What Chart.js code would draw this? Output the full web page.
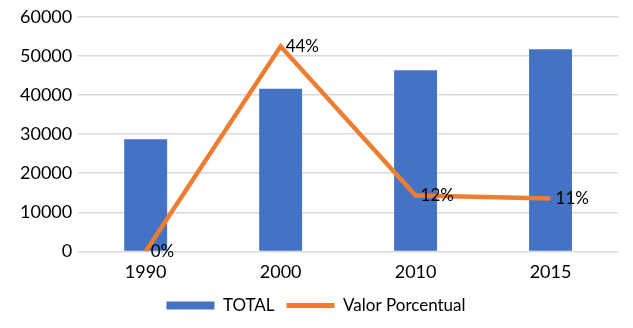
<!DOCTYPE html>
<html>
<head>
<meta charset="utf-8">
<script src="https://cdn.jsdelivr.net/npm/chart.js@4"></script>
<style>
  html, body { margin: 0; padding: 0; background: #fff; }
  #wrap { width: 633px; height: 328px; }
</style>
</head>
<body>
<div id="wrap"><canvas id="chart"></canvas></div>
<script>
// Datos
const anios = ['1990', '2000', '2010', '2015'];
const total = [28700, 41600, 46300, 51700];
const valorPorcentual = [0, 0.437, 0.119, 0.113];   // fracción
const ticksY = [0, 10000, 20000, 30000, 40000, 50000, 60000];

const AZUL = '#4472C4', NARANJA = '#ED7D31', GRIS = '#d9d9d9';
const FUENTE = 'Lato, "DejaVu Sans", sans-serif';

// etiquetas de porcentaje a la derecha de cada punto
const etiquetas = {
  id: 'etiquetas',
  afterDatasetsDraw(chart) {
    const meta = chart.getDatasetMeta(1);
    const ctx = chart.ctx;
    ctx.save();
    ctx.font = '17px ' + FUENTE;
    ctx.fillStyle = '#000';
    ctx.textAlign = 'left';
    ctx.textBaseline = 'middle';
    meta.data.forEach((pt, i) => {
      ctx.fillText(Math.round(valorPorcentual[i] * 100) + '%', pt.x + 5, pt.y);
    });
    ctx.restore();
  }
};

new Chart(document.getElementById('chart'), {
  data: {
    labels: anios,
    datasets: [
      {
        type: 'bar',
        label: 'TOTAL',
        data: total,
        backgroundColor: AZUL,
        categoryPercentage: 1,
        barPercentage: 0.318,
        yAxisID: 'y',
        order: 2
      },
      {
        type: 'line',
        label: 'Valor Porcentual',
        data: valorPorcentual,
        borderColor: NARANJA,
        backgroundColor: NARANJA,
        borderWidth: 4.5,
        pointRadius: 0,
        tension: 0,
        yAxisID: 'y1',
        order: 1
      }
    ]
  },
  options: {
    responsive: true,
    maintainAspectRatio: false,
    animation: false,
    layout: { padding: { top: 16, right: 15, left: 14, bottom: 4 } },
    plugins: {
      tooltip: { enabled: false },
      legend: {
        position: 'bottom',
        labels: {
          color: '#000',
          font: { family: FUENTE, size: 17 },
          usePointStyle: true,
          pointStyleWidth: 48,
          boxHeight: 8,
          padding: 12,
          generateLabels(chart) {
            return chart.data.datasets.map((ds, i) => ({
              text: ds.label,
              datasetIndex: i,
              fillStyle: ds.backgroundColor,
              strokeStyle: ds.type === 'line' ? ds.borderColor : ds.backgroundColor,
              lineWidth: ds.type === 'line' ? 5 : 0,
              pointStyle: ds.type === 'line' ? 'line' : 'rect',
              fontColor: '#000',
              hidden: false
            }));
          }
        }
      }
    },
    scales: {
      x: {
        offset: true,
        grid: { display: false },
        border: { display: false },
        ticks: { color: '#000', font: { family: FUENTE, size: 18 }, padding: 2 }
      },
      y: {
        min: 0,
        max: 60000,
        afterBuildTicks(axis) { axis.ticks = ticksY.map(v => ({ value: v })); },
        grid: { color: GRIS, lineWidth: 1.5, drawTicks: false },
        border: { display: false },
        ticks: {
          color: '#000',
          font: { family: FUENTE, size: 18 },
          padding: 6,
          callback: v => String(v)
        }
      },
      y1: {
        display: false,
        min: 0,
        max: 0.5
      }
    }
  },
  plugins: [etiquetas]
});
</script>
</body>
</html>
